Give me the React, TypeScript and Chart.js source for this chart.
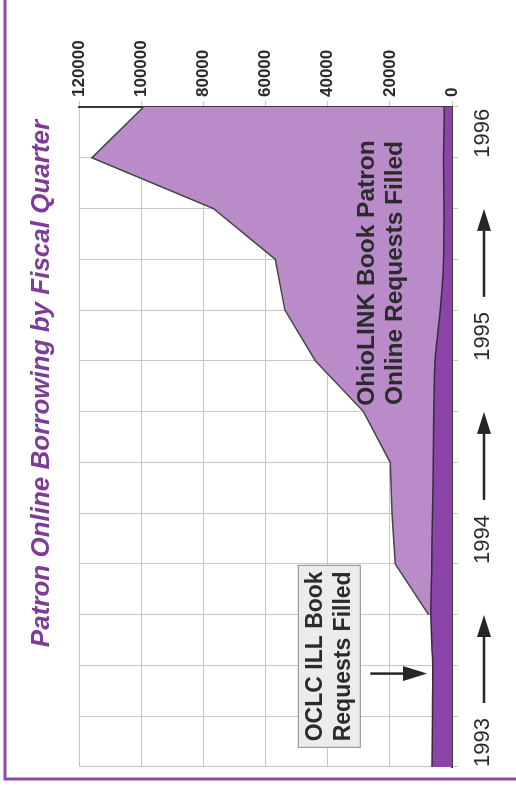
import React, { useEffect, useRef } from 'react';
import { Chart, registerables } from 'chart.js';

Chart.register(...registerables);

// ---- data ----
const quarters = [
  '1993 Q1', '1993 Q2', '1993 Q3', '1993 Q4',
  '1994 Q1', '1994 Q2', '1994 Q3', '1994 Q4',
  '1995 Q1', '1995 Q2', '1995 Q3', '1995 Q4',
  '1996 Q1', '1996 Q2',
];
const yearLabels = ['1993', '1994', '1995', '1996'];
const oclcFilled = [6400, 6300, 6200, 6800, 6500, 6300, 6000, 5900, 5500, 3800, 2700, 2600, 2700, 2500];
const ohiolinkFilled = [null, null, null, 7500, 18300, 19300, 19900, 28500, 44000, 53800, 56900, 76800, 115900, 99300];
const valueMin = 0;
const valueMax = 120000;
const valueStep = 20000;

const TITLE = 'Patron Online Borrowing by Fiscal Quarter';
const OHIOLINK_LABEL = ['OhioLINK Book Patron', 'Online Requests Filled'];
const OCLC_LABEL = ['OCLC ILL Book', 'Requests Filled'];

const W = 794;
const H = 516;
const FONT = "'Liberation Sans', Arial, Helvetica, sans-serif";

const decorations = {
  id: 'decorations',
  beforeDraw(chart: any) {
    const { ctx } = chart;
    ctx.save();
    ctx.strokeStyle = '#8a4aa8';
    ctx.lineWidth = 3;
    ctx.beginPath();
    ctx.moveTo(15, chart.height);
    ctx.lineTo(15, 5);
    ctx.lineTo(chart.width, 5);
    ctx.stroke();
    ctx.restore();
  },
  afterDraw(chart: any) {
    const { ctx } = chart;
    const x = chart.scales.x;
    const y = chart.scales.y;
    ctx.save();

    const arrow = (x1: number, y1: number, x2: number, y2: number, headLen: number, headW: number, lw: number) => {
      const ang = Math.atan2(y2 - y1, x2 - x1);
      const bx = x2 - Math.cos(ang) * headLen;
      const by = y2 - Math.sin(ang) * headLen;
      ctx.strokeStyle = '#262626';
      ctx.fillStyle = '#262626';
      ctx.lineWidth = lw;
      ctx.beginPath();
      ctx.moveTo(x1, y1);
      ctx.lineTo(bx, by);
      ctx.stroke();
      ctx.beginPath();
      ctx.moveTo(x2, y2);
      ctx.lineTo(bx - Math.sin(ang) * headW / 2, by + Math.cos(ang) * headW / 2);
      ctx.lineTo(bx + Math.sin(ang) * headW / 2, by - Math.cos(ang) * headW / 2);
      ctx.closePath();
      ctx.fill();
    };

    // arrows following year labels
    const ay = x.top + 32;
    for (let k = 0; k < yearLabels.length - 1; k++) {
      const px = x.getPixelForValue(k * 4);
      arrow(px + 64, ay, px + 152, ay, 22, 14, 2.5);
    }

    // OhioLINK label
    ctx.fillStyle = '#2b2b2b';
    ctx.font = `bold 24.5px ${FONT}`;
    ctx.textAlign = 'center';
    ctx.textBaseline = 'middle';
    const ox = x.getPixelForValue(9.73);
    const oy = y.getPixelForValue(22700);
    ctx.fillText(OHIOLINK_LABEL[0], ox, oy - 14);
    ctx.fillText(OHIOLINK_LABEL[1], ox, oy + 14);

    // OCLC label box
    ctx.font = `bold 23px ${FONT}`;
    const bx = x.getPixelForValue(2.18);
    const by = y.getPixelForValue(39500);
    ctx.fillStyle = '#ececec';
    ctx.strokeStyle = '#8a8a8a';
    ctx.lineWidth = 1;
    ctx.fillRect(bx - 91, by - 31, 182, 62);
    ctx.strokeRect(bx - 91, by - 31, 182, 62);
    ctx.fillStyle = '#2b2b2b';
    ctx.fillText(OCLC_LABEL[0], bx, by - 14);
    ctx.fillText(OCLC_LABEL[1], bx, by + 14);

    // arrow to OCLC band
    const arx = x.getPixelForValue(1.84);
    arrow(arx, y.getPixelForValue(26300), arx, y.getPixelForValue(8050), 24, 15, 2.5);

    ctx.restore();
  },
};

export default function App() {
  const ref = useRef<HTMLCanvasElement>(null);

  useEffect(() => {
    const chart = new Chart(ref.current as HTMLCanvasElement, {
      type: 'line',
      data: {
        labels: quarters,
        datasets: [
          {
            label: 'OCLC ILL Book Requests Filled',
            data: oclcFilled,
            fill: 'origin',
            backgroundColor: '#8b45a8',
            borderColor: '#3a2a40',
            borderWidth: 1.5,
            pointRadius: 0,
            tension: 0.2,
          },
          {
            label: 'OhioLINK Book Patron Online Requests Filled',
            data: ohiolinkFilled as any,
            fill: 'origin',
            backgroundColor: '#b98bc9',
            borderColor: '#454545',
            borderWidth: 1.5,
            pointRadius: 0,
            tension: 0,
          },
        ],
      },
      options: {
        responsive: false,
        animation: false,
        layout: { padding: { left: 27, right: 0, top: 0, bottom: 0 } },
        plugins: {
          legend: { display: false },
          tooltip: { enabled: false },
          title: {
            display: true,
            text: TITLE,
            color: '#7d3c98',
            font: { family: FONT, size: 26, weight: 'bold', style: 'italic' },
            padding: { top: 26, bottom: 22 },
          },
        },
        scales: {
          x: {
            type: 'category',
            offset: false,
            grid: { color: '#cbc5bb', lineWidth: 1, tickLength: 6 },
            border: { color: '#3a3a3a', width: 2 },
            ticks: {
              autoSkip: false,
              minRotation: 0,
              maxRotation: 0,
              align: 'start',
              padding: 12,
              color: '#2b2b2b',
              font: { family: FONT, size: 22 },
              callback: (_v: any, i: number) => (i % 4 === 0 ? yearLabels[i / 4] : ''),
            },
            afterFit: (s: any) => { s.height = 64; },
          },
          y: {
            position: 'right',
            min: valueMin,
            max: valueMax,
            grid: { color: '#cbc5bb', lineWidth: 1, tickLength: 6 },
            border: { color: '#3a3a3a', width: 2 },
            ticks: {
              stepSize: valueStep,
              padding: 4,
              color: '#2b2b2b',
              font: { family: FONT, size: 17, weight: 'bold' },
              callback: (v: any) => String(v),
            },
            afterFit: (s: any) => { s.width = 107; },
          },
        },
      },
      plugins: [decorations],
    });
    return () => chart.destroy();
  }, []);

  return (
    <div
      style={{
        position: 'fixed',
        left: 0,
        top: 0,
        width: W,
        height: H,
        background: '#fff',
        transformOrigin: '0 0',
        transform: `translateY(${W}px) rotate(-90deg)`,
      }}
    >
      <canvas ref={ref} width={W} height={H} style={{ display: 'block', width: W, height: H }} />
    </div>
  );
}
